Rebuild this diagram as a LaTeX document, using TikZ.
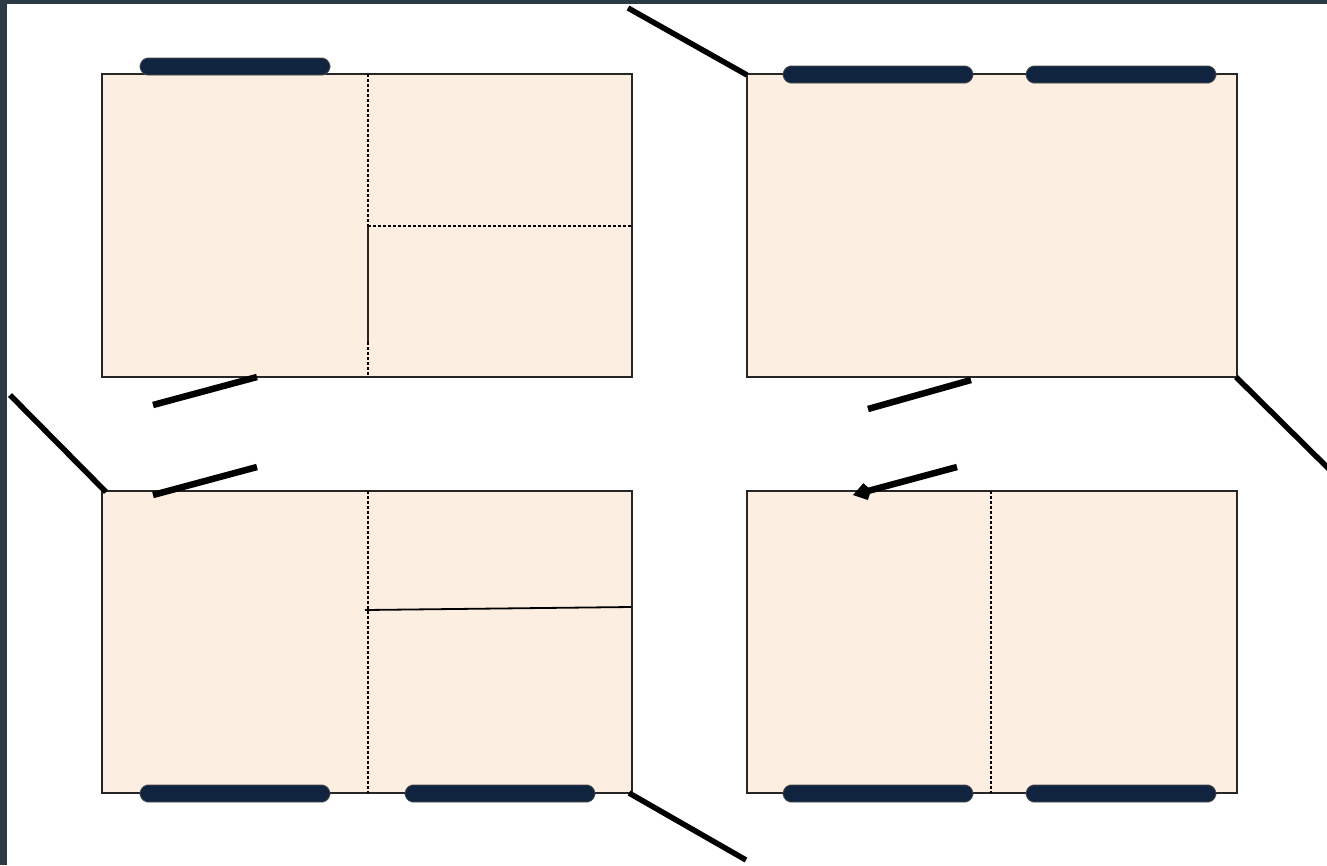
\documentclass[tikz,border=0pt]{standalone}
\usepackage{xcolor}
\usetikzlibrary{arrows.meta}

\definecolor{slate}{HTML}{2A3B46}
\definecolor{peach}{HTML}{FDEEE2}
\definecolor{railblue}{HTML}{10243F}

% chamfered dark bar: x-start, x-end, y-centre
\newcommand{\railbar}[3]{%
  \draw[bar, rounded corners=2pt]
    (#1, #3-3) -- (#1+5, #3-8.5) -- (#2-5, #3-8.5) -- (#2, #3-3) --
    (#2, #3+3) -- (#2-5, #3+8.5) -- (#1+5, #3+8.5) -- (#1, #3+3) -- cycle;}

\begin{document}
\begin{tikzpicture}[x=1pt, y=-1pt, >=Stealth,
    panel/.style={draw=black!85, fill=peach, line width=1.2pt},
    divider/.style={black, line width=1.2pt, dash pattern=on 3pt off 2pt},
    bar/.style={draw=black!70, fill=railblue, line width=0.8pt},
    stroke/.style={line width=5.5pt},
    flap/.style={line width=6.5pt}]
  % Background and frame
  \fill[slate] (0,0) rectangle (1327,865);
  \fill[white] (7,4) rectangle (1327,865);
  \useasboundingbox (0,0) rectangle (1327,865);

  % Panel A (top left)
  \draw[panel] (102,74) rectangle (632,377);
  \draw[divider] (368,74) -- (368,226);
  \draw[divider] (368,342) -- (368,377);
  \draw[black!85, line width=1.4pt] (368,226) -- (368,342);
  \draw[divider] (368,226) -- (632,226);
  \railbar{140}{330}{66.5}

  % Panel B (top right)
  \draw[panel] (747,74) rectangle (1237,377);
  \railbar{783}{973}{74.5}
  \railbar{1026}{1216}{74.5}

  % Panel C (bottom left)
  \draw[panel] (102,491) rectangle (632,793);
  \draw[divider] (368,491) -- (368,793);
  \draw[black, line width=1.8pt] (365,610) -- (631,607);
  \railbar{140}{330}{793.5}
  \railbar{405}{595}{793.5}

  % Panel D (bottom right)
  \draw[panel] (747,491) rectangle (1237,793);
  \draw[divider] (991,491) -- (991,793);
  \railbar{783}{973}{793.5}
  \railbar{1026}{1216}{793.5}

  % Hinges at the corners
  \draw[stroke] (628,8) -- (747,75);
  \draw[stroke] (1236,377) -- (1330,470);
  \draw[stroke] (10,395) -- (106,492);
  \draw[stroke] (629,793) -- (746,860);

  % Short flaps between panels
  \draw[flap] (153,405) -- (257,377);
  \draw[flap] (153,495) -- (257,467);
  \draw[flap] (868,409) -- (971,380);
  \draw[flap, -{Straight Barb[length=9pt, width=12pt]}] (957,467) -- (853,495);
\end{tikzpicture}
\end{document}
